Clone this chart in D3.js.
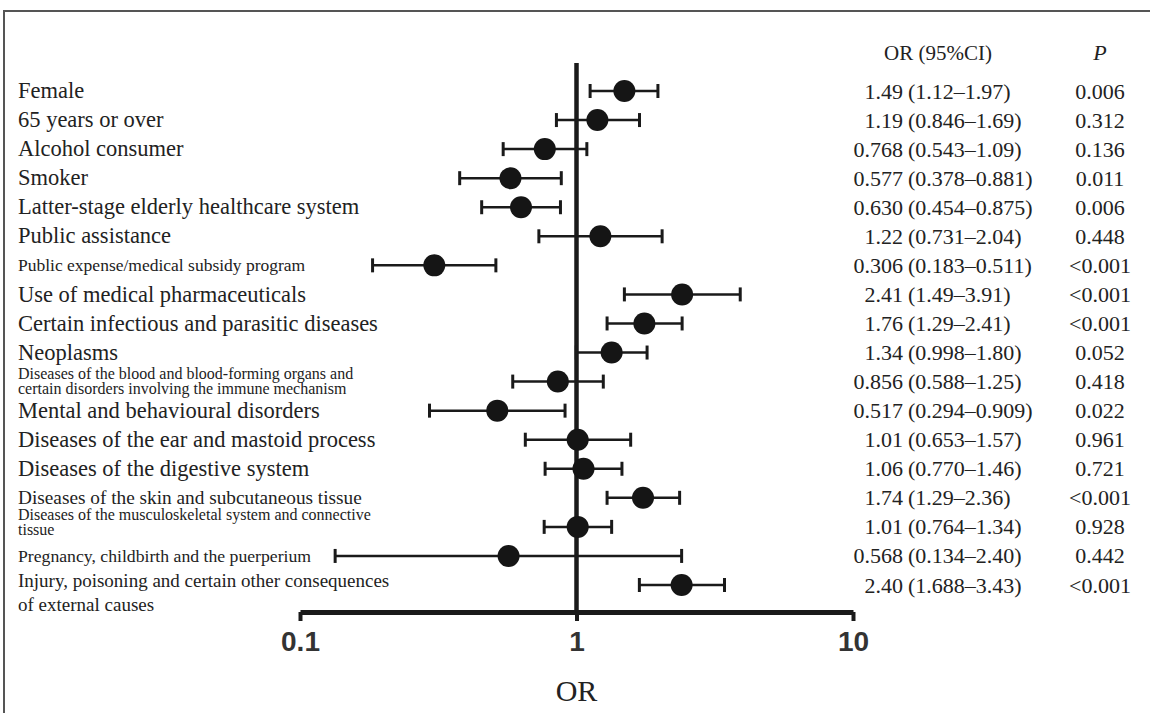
<!DOCTYPE html>
<html>
<head>
<meta charset="utf-8">
<script src="https://cdn.jsdelivr.net/npm/d3@7"></script>
<style>
    body { margin: 0; background: #fff; }
    svg { display: block; }
    .label, .val { font-family: 'Liberation Serif', 'Times New Roman', serif; fill: #222; }
    .tick text { font-family: 'Liberation Sans', Arial, sans-serif; font-weight: bold; fill: #333; }
</style>
</head>
<body>
<svg id="chart"></svg>
<script>
// rows, top to bottom
const labels = [
    ['Female'],
    ['65 years or over'],
    ['Alcohol consumer'],
    ['Smoker'],
    ['Latter-stage elderly healthcare system'],
    ['Public assistance'],
    ['Public expense/medical subsidy program'],
    ['Use of medical pharmaceuticals'],
    ['Certain infectious and parasitic diseases'],
    ['Neoplasms'],
    ['Diseases of the blood and blood-forming organs and', 'certain disorders involving the immune mechanism'],
    ['Mental and behavioural disorders'],
    ['Diseases of the ear and mastoid process'],
    ['Diseases of the digestive system'],
    ['Diseases of the skin and subcutaneous tissue'],
    ['Diseases of the musculoskeletal system and connective', 'tissue'],
    ['Pregnancy, childbirth and the puerperium'],
    ['Injury, poisoning and certain other consequences', 'of external causes']
];
const orValues = ['1.49', '1.19', '0.768', '0.577', '0.630', '1.22', '0.306', '2.41', '1.76', '1.34',
    '0.856', '0.517', '1.01', '1.06', '1.74', '1.01', '0.568', '2.40'];
const ciLow = ['1.12', '0.846', '0.543', '0.378', '0.454', '0.731', '0.183', '1.49', '1.29', '0.998',
    '0.588', '0.294', '0.653', '0.770', '1.29', '0.764', '0.134', '1.688'];
const ciHigh = ['1.97', '1.69', '1.09', '0.881', '0.875', '2.04', '0.511', '3.91', '2.41', '1.80',
    '1.25', '0.909', '1.57', '1.46', '2.36', '1.34', '2.40', '3.43'];
const pValues = ['0.006', '0.312', '0.136', '0.011', '0.006', '0.448', '<0.001', '<0.001', '<0.001', '0.052',
    '0.418', '0.022', '0.961', '0.721', '<0.001', '0.928', '0.442', '<0.001'];
const xTicks = [0.1, 1, 10];

// label font size per row (the source mixes sizes)
const labelSize = [22.5, 22.5, 22.5, 22.5, 22.5, 22.5, 17.5, 22.5, 22.5, 22.5, 16, 22.5, 22.5, 22.5, 19.3, 16, 17.7, 19];

const width = 1150, height = 713;
const svg = d3.select('#chart').attr('width', width).attr('height', height);

// frame: top and left edges only
svg.append('path')
    .attr('d', 'M4,713 V11 H1150')
    .attr('fill', 'none')
    .attr('stroke', '#555')
    .attr('stroke-width', 2);

const axisY = 612;
const x = d3.scaleLog().domain([0.1, 10]).range([300, 853]);
const y = d3.scalePoint().domain(d3.range(labels.length)).range([91, 585]);

// reference line at OR = 1
svg.append('line')
    .attr('x1', x(1)).attr('x2', x(1))
    .attr('y1', 63).attr('y2', axisY)
    .attr('stroke', '#1a1a1a')
    .attr('stroke-width', 4.5);

// x axis
const axis = svg.append('g')
    .attr('transform', `translate(0,${axisY})`)
    .call(d3.axisBottom(x).tickValues(xTicks).tickSize(9).tickSizeOuter(0).tickPadding(10)
        .tickFormat(d => String(d)));
axis.select('.domain').attr('stroke', '#1a1a1a').attr('stroke-width', 5);
axis.selectAll('.tick line').attr('stroke', '#1a1a1a').attr('stroke-width', 4);
axis.selectAll('.tick text').attr('font-size', 28);

svg.append('text')
    .attr('class', 'val')
    .attr('x', x(1)).attr('y', 701)
    .attr('text-anchor', 'middle')
    .attr('font-size', 30)
    .text('OR');

const rows = svg.append('g').selectAll('g')
    .data(labels.map((l, i) => ({ i: i, lines: l })))
    .join('g')
    .attr('transform', d => `translate(0,${y(d.i)})`);

// labels
rows.append('text')
    .attr('class', 'label')
    .attr('font-size', d => labelSize[d.i])
    .each(function (d) {
        const t = d3.select(this);
        const fs = labelSize[d.i];
        let first;
        if (d.lines.length === 1) first = fs * 0.32;
        else if (d.i === 17) first = 2;
        else if (d.i === 15) first = -7;
        else first = -3;
        const gap = d.i === 17 ? 24 : 15;
        d.lines.forEach((line, k) => {
            t.append('tspan').attr('x', 18).attr('y', first + k * gap).text(line);
        });
    });

// confidence intervals
rows.append('line')
    .attr('x1', d => x(+ciLow[d.i])).attr('x2', d => x(+ciHigh[d.i]))
    .attr('stroke', '#1a1a1a').attr('stroke-width', 2.5);
rows.selectAll('.cap')
    .data(d => [+ciLow[d.i], +ciHigh[d.i]])
    .join('line')
    .attr('class', 'cap')
    .attr('x1', d => x(d)).attr('x2', d => x(d))
    .attr('y1', -7).attr('y2', 7)
    .attr('stroke', '#1a1a1a').attr('stroke-width', 3);

// point estimates
rows.append('circle')
    .attr('cx', d => x(+orValues[d.i]))
    .attr('r', 11)
    .attr('fill', '#151515');

// text columns
const colOr = 903, colCi = 908, colP = 1100;
svg.append('text').attr('class', 'val')
    .attr('x', 938).attr('y', 60).attr('text-anchor', 'middle').attr('font-size', 21)
    .text('OR (95%CI)');
svg.append('text').attr('class', 'val')
    .attr('x', colP).attr('y', 60).attr('text-anchor', 'middle').attr('font-size', 22)
    .attr('font-style', 'italic')
    .text('P');

rows.append('text').attr('class', 'val')
    .attr('x', colOr).attr('y', 7.5).attr('text-anchor', 'end').attr('font-size', 22)
    .text(d => orValues[d.i]);
rows.append('text').attr('class', 'val')
    .attr('x', colCi).attr('y', 7.5).attr('font-size', 22)
    .text(d => `(${ciLow[d.i]}–${ciHigh[d.i]})`);
rows.append('text').attr('class', 'val')
    .attr('x', colP).attr('y', 7.5).attr('text-anchor', 'middle').attr('font-size', 22)
    .text(d => pValues[d.i]);
</script>
</body>
</html>
